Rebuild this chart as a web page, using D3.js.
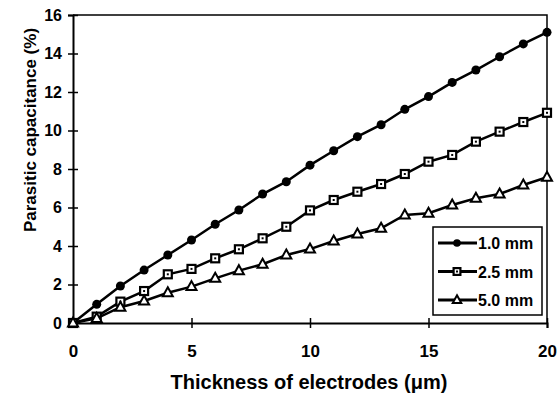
<!DOCTYPE html>
<html><head><meta charset="utf-8">
<script src="https://cdn.jsdelivr.net/npm/d3@7"></script>
<style>body{margin:0;background:#fff}svg text{font-family:"Liberation Sans",Arial,sans-serif;font-weight:bold;fill:#000}</style>
</head><body>
<svg id="c" width="557" height="401"></svg>
<script>
const thickness = [0,1,2,3,4,5,6,7,8,9,10,11,12,13,14,15,16,17,18,19,20];
const s10 = [0,0.97,1.92,2.75,3.53,4.31,5.13,5.87,6.70,7.34,8.2,8.95,9.68,10.3,11.1,11.76,12.5,13.14,13.83,14.5,15.1];
const s25 = [0,0.33,1.11,1.66,2.53,2.81,3.36,3.83,4.40,5.0,5.85,6.39,6.82,7.22,7.74,8.38,8.73,9.42,9.94,10.44,10.92];
const s50 = [0,0.24,0.82,1.14,1.57,1.89,2.32,2.72,3.05,3.53,3.84,4.26,4.62,4.92,5.61,5.70,6.13,6.48,6.70,7.17,7.57];
const seriesNames = ["1.0 mm","2.5 mm","5.0 mm"];
const markers = ["circle","square","triangle"];
const xTicks = [0,5,10,15,20];
const yTicks = [0,2,4,6,8,10,12,14,16];
const xTitle = "Thickness of electrodes (\u03bcm)";
const yTitle = "Parasitic capacitance (%)";

const svg = d3.select("#c");
const L=73,R=547,T=15,B=323;
const x = d3.scaleLinear().domain([0,20]).range([L,R]);
const y = d3.scaleLinear().domain([0,16]).range([B,T]);

// frame
svg.append("path").attr("d",`M${L},${T}H${R}V${B}`).attr("fill","none").attr("stroke","#000").attr("stroke-width",1.5);

const yAxis = svg.append("g").attr("transform",`translate(${L},0)`)
  .call(d3.axisLeft(y).tickValues(yTicks).tickSize(5).tickPadding(6));
yAxis.selectAll(".tick line").attr("x2",-5).attr("x1",5).attr("stroke-width",1.5);
yAxis.select(".domain").attr("stroke-width",2);
yAxis.selectAll("text").style("font-size","16px");

const xAxis = svg.append("g").attr("transform",`translate(0,${B})`)
  .call(d3.axisBottom(x).tickValues(xTicks).tickSize(5).tickPadding(17));
xAxis.selectAll(".tick line").attr("y1",-5).attr("y2",5).attr("stroke-width",1.5);
xAxis.select(".domain").attr("stroke-width",2);
xAxis.selectAll("text").style("font-size","17px");

svg.append("text").attr("x",(L+R)/2 - 1).attr("y",389).attr("text-anchor","middle")
  .style("font-size","20px").text(xTitle);
svg.append("text").attr("transform",`translate(36,130) rotate(-90)`).attr("text-anchor","middle")
  .style("font-size","17px").text(yTitle);

const line = d3.line().x((d,i)=>x(thickness[i])).y(d=>y(d));
const allSeries=[s10,s25,s50];

function drawMarker(g, type, cx, cy, sc=1){
  if(type==="circle") g.append("circle").attr("cx",cx).attr("cy",cy).attr("r",4.5*sc).attr("fill","#000");
  else if(type==="square"){
    g.append("rect").attr("x",cx-4*sc).attr("y",cy-4*sc).attr("width",8*sc).attr("height",8*sc).attr("fill","#fff").attr("stroke","#000").attr("stroke-width",2.2);
    g.append("rect").attr("x",cx-1).attr("y",cy-1).attr("width",2).attr("height",2).attr("fill","#000");
  } else {
    g.append("path").attr("d",`M${cx},${cy-5.5*sc}L${cx+5*sc},${cy+3.5*sc}L${cx-5*sc},${cy+3.5*sc}Z`).attr("fill","#fff").attr("stroke","#000").attr("stroke-width",2);
  }
}

allSeries.forEach((s,k)=>{
  svg.append("path").datum(s).attr("d",line).attr("fill","none").attr("stroke","#000").attr("stroke-width",2.5);
  const g=svg.append("g");
  s.forEach((v,i)=>drawMarker(g,markers[k],x(thickness[i]),y(v)));
});

// legend
const lg = svg.append("g");
lg.append("rect").attr("x",433).attr("y",227).attr("width",109).attr("height",88).attr("fill","#fff").attr("stroke","#000").attr("stroke-width",1.5);
seriesNames.forEach((n,k)=>{
  const yy=243+k*28.5;
  lg.append("line").attr("x1",438).attr("x2",477).attr("y1",yy).attr("y2",yy).attr("stroke","#000").attr("stroke-width",3);
  drawMarker(lg,markers[k],457,yy,0.85);
  lg.append("text").attr("x",478).attr("y",yy+6).style("font-size","16px").text(n);
});
</script>
</body></html>
